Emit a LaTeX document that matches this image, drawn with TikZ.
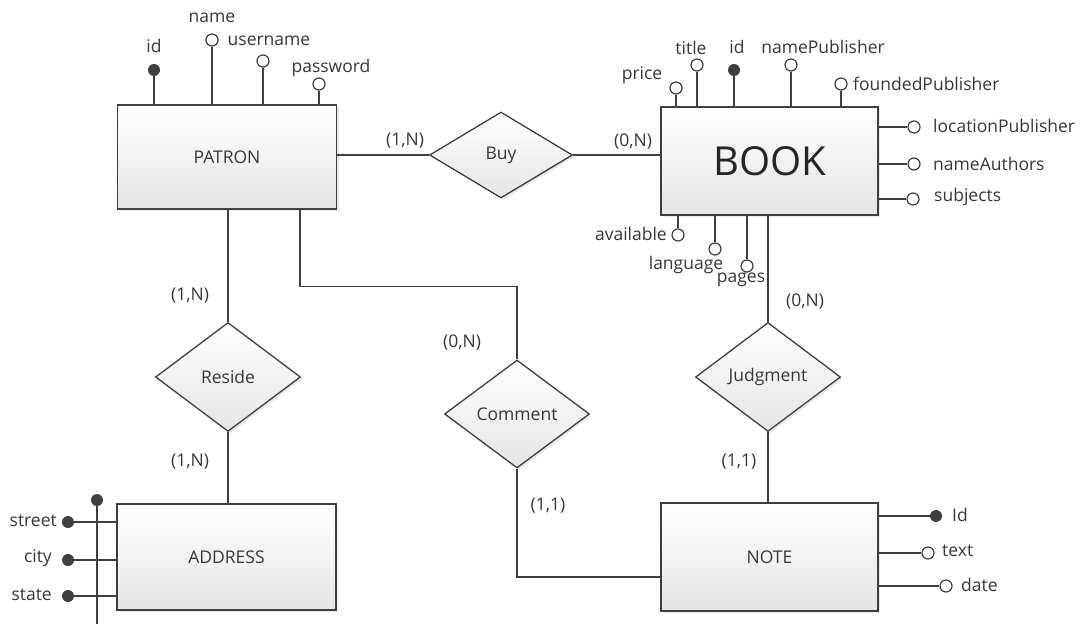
\documentclass[tikz,border=0pt]{standalone}
\usepackage{fontspec}
\setmainfont{Open Sans}
\usetikzlibrary{shapes.geometric,shadows}
\definecolor{ln}{HTML}{3F3F3F}
\definecolor{tx}{HTML}{383838}
\begin{document}
\begin{tikzpicture}[x=1pt,y=-1pt,
  entity/.style={draw=ln, line width=1.3pt, top color=white, bottom color=gray!20,
    minimum width=219pt, minimum height=106pt, inner sep=0pt, text=tx,
    font=\fontsize{17.5}{19}\selectfont,
    drop shadow={opacity=0.18, shadow xshift=2pt, shadow yshift=-2pt}},
  rel/.style={diamond, draw=ln, line width=1.3pt, top color=white, bottom color=gray!20,
    minimum width=145pt, minimum height=109pt, inner sep=0pt, text=tx,
    font=\fontsize{17.5}{19}\selectfont,
    drop shadow={opacity=0.18, shadow xshift=2pt, shadow yshift=-2pt}},
  attr/.style={circle, draw=ln, fill=white, line width=1.2pt, minimum size=12pt, inner sep=0pt},
  keyattr/.style={circle, fill=ln, minimum size=12pt, inner sep=0pt},
  lbl/.style={font=\fontsize{17.5}{19}\selectfont, text=tx, inner sep=0pt},
  conn/.style={draw=ln, line width=1.3pt}]
\useasboundingbox (0,0) rectangle (1083,624);
\fill[white] (0,0) rectangle (1083,624);

% entities
\node[entity] (patron) at (227,157) [minimum height=104pt] {PATRON};
\node[entity, minimum width=217pt, minimum height=108pt, font=\fontsize{40}{44}\selectfont, text=black!85] (book) at (769.5,161) {BOOK};
\node[entity] (address) at (226.5,557) {ADDRESS};
\node[entity, minimum width=217pt, minimum height=108pt] (note) at (769.5,557) {NOTE};

% relationships
\node[rel, minimum width=143pt, minimum height=86pt] (buy) at (501,155) {Buy};
\node[rel] (reside) at (228,377) {Reside};
\node[rel, minimum height=108pt] (comment) at (517,414) {Comment};
\node[rel] (judgment) at (768,377) {Judgment};

% relationship connectors
\draw[conn] (patron.east |- buy.west) -- (buy.west);
\draw[conn] (buy.east) -- (book.west |- buy.east);
\draw[conn] (reside.north |- patron.south) -- (reside.north);
\draw[conn] (reside.south) -- (address.north -| reside.south);
\draw[conn] ([xshift=73pt]patron.south) -- ++(0,77) -| (comment.north);
\draw[conn] (comment.south) |- ([yshift=-20pt]note.west);
\draw[conn] (book.south -| judgment.north) -- (judgment.north);
\draw[conn] (judgment.south) -- (note.north -| judgment.south);

% cardinalities
\node[lbl] (c1) at (405,141) {(1,N)};
\node[lbl] (c2) at (633,142) {(0,N)};
\node[lbl] (c3) at (190,296) {(1,N)};
\node[lbl] (c4) at (190,462) {(1,N)};
\node[lbl] (c5) at (462,343) {(0,N)};
\node[lbl] (c6) at (548,506) {(1,1)};
\node[lbl] (c7) at (805,302) {(0,N)};
\node[lbl] (c8) at (739,462) {(1,1)};

% PATRON attributes
\node[keyattr] (pid) at (154,70) {};
\node[attr] (pname) at (212,40) {};
\node[attr] (puser) at (263,61) {};
\node[attr] (ppass) at (319,84) {};
\foreach \a in {pid,pname,puser,ppass} \draw[conn] (\a) -- (\a |- patron.north);
\node[lbl] (lpid) at (154,46) {id};
\node[lbl] (lpname) at (212,18) {name};
\node[lbl] (lpuser) at (269,41) {username};
\node[lbl] (lppass) at (331,68) {password};

% BOOK attributes
\node[attr] (bprice) at (676,88) {};
\node[attr] (btitle) at (697,65) {};
\node[keyattr] (bid) at (734,70) {};
\node[attr] (bnpub) at (791,65) {};
\node[attr] (bfpub) at (841,84) {};
\foreach \a in {bprice,btitle,bid,bnpub,bfpub} \draw[conn] (\a) -- (\a |- book.north);
\node[attr] (blpub) at (914,127) {};
\node[attr] (bauth) at (914,164) {};
\node[attr] (bsubj) at (913,199) {};
\foreach \a in {blpub,bauth,bsubj} \draw[conn] (\a) -- (\a -| book.east);
\node[attr] (bavail) at (678,235) {};
\node[attr] (blang) at (715,249) {};
\node[attr] (bpages) at (747,266) {};
\foreach \a in {bavail,blang,bpages} \draw[conn] (\a) -- (\a |- book.south);
\node[lbl] (lbprice) at (642,75) {price};
\node[lbl] (lbtitle) at (691,48) {title};
\node[lbl] (lbid) at (737,47) {id};
\node[lbl] (lbnpub) at (823,47) {namePublisher};
\node[lbl, anchor=west] (lbfpub) at (853,84) {foundedPublisher};
\node[lbl, anchor=west] (lblpub) at (933,126) {locationPublisher};
\node[lbl, anchor=west] (lbauth) at (933,164) {nameAuthors};
\node[lbl, anchor=west] (lbsubj) at (934,197) {subjects};
\node[lbl, anchor=east] (lbavail) at (667,234) {available};
\node[lbl] (lblang) at (686,265) {language};
\node[lbl] (lbpages) at (741,280) {pages};

% NOTE attributes
\node[keyattr] (nid) at (936,516) {};
\node[attr] (ntext) at (928,553) {};
\node[attr] (ndate) at (946,586) {};
\foreach \a in {nid,ntext,ndate} \draw[conn] (\a) -- (\a -| note.east);
\node[lbl, anchor=west] (lnid) at (952,515) {Id};
\node[lbl, anchor=west] (lntext) at (942,551) {text};
\node[lbl, anchor=west] (lndate) at (961,585) {date};

% ADDRESS attributes
\node[keyattr] (akey) at (97,500) {};
\coordinate (akeyend) at (97,624);
\draw[conn] (akey) -- (akeyend);
\node[keyattr] (astreet) at (68,522) {};
\node[keyattr] (acity) at (68,560) {};
\node[keyattr] (astate) at (68,596) {};
\foreach \a in {astreet,acity,astate} \draw[conn] (\a) -- (\a -| address.west);
\node[lbl, anchor=east] (lastreet) at (57,521) {street};
\node[lbl, anchor=east] (lacity) at (52,558) {city};
\node[lbl, anchor=east] (lastate) at (52,595) {state};
\end{tikzpicture}
\end{document}
